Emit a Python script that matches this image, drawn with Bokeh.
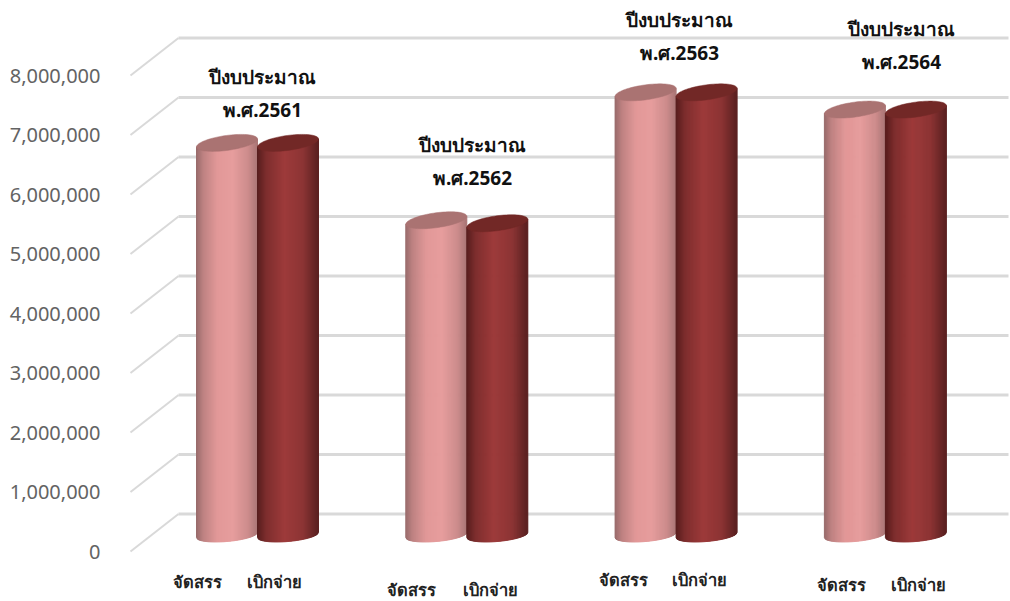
import numpy as np
from bokeh.plotting import figure
from bokeh.models import Range1d, FixedTicker, NumeralTickFormatter
from bokeh.core.properties import value
from bokeh.embed import file_html
from bokeh.resources import INLINE

years = ["2561", "2562", "2563", "2564"]
allocated = [6590000, 5290000, 7440000, 7150000]
disbursed = [6590000, 5240000, 7440000, 7150000]
series_names = ["จัดสรร", "เบิกจ่าย"]
title_text = "ปีงบประมาณ"
ticks = [0, 1000000, 2000000, 3000000, 4000000, 5000000, 6000000, 7000000, 8000000]

W, H = 1010, 601
LEFT, TOP = 118, 0           # page position of the frame
PX_PER_UNIT = 59.5 / 1e6     # px per value
Y0 = 551                     # page y of value 0
GROUP_PX = 209.3
GROUP0 = 257


def X(px):
    return (np.asarray(px, dtype=float) - GROUP0) / GROUP_PX


def Y(py):
    return (Y0 - np.asarray(py, dtype=float)) / PX_PER_UNIT


p = figure(width=W, height=H, output_backend="svg", toolbar_location=None,
           x_range=Range1d(float(X(LEFT)), float(X(W))),
           y_range=Range1d(float(Y(H)), float(Y(TOP))),
           min_border_left=LEFT, min_border_right=0, min_border_top=0, min_border_bottom=0,
           x_axis_location=None)
p.outline_line_color = None
p.grid.visible = False
p.background_fill_color = "white"

ax = p.yaxis[0]
ax.ticker = FixedTicker(ticks=ticks)
ax.formatter = NumeralTickFormatter(format="0,0")
ax.axis_line_color = None
ax.major_tick_line_color = None
ax.minor_tick_line_color = None
ax.major_tick_out = 0
ax.major_tick_in = 0
ax.major_label_standoff = 18
ax.major_label_text_font = "Noto Sans"
ax.major_label_text_font_size = "20px"
ax.major_label_text_color = "#636363"

# receding floor/wall gridlines
DEPTH_Y = 37.5
for t in ticks:
    y_front = t
    y_back = t + DEPTH_Y / PX_PER_UNIT
    p.line(X([130, 178]), [y_front, y_back], line_color="#d9d9d9", line_width=2)
    p.line(X([178, 1008]), [y_back, y_back], line_color="#d9d9d9", line_width=3)


def lerp_color(stops, t):
    pos = [s[0] for s in stops]
    rgb = [np.interp(t, pos, [s[1][i] for s in stops]) for i in range(3)]
    return "#%02x%02x%02x" % tuple(int(round(v)) for v in rgb)


PINK = [(0, (150, 105, 105)), (0.12, (190, 130, 130)), (0.35, (226, 152, 152)), (0.6, (230, 157, 157)),
        (0.85, (205, 140, 140)), (1, (170, 118, 118))]
DARK = [(0, (85, 28, 28)), (0.15, (125, 45, 45)), (0.45, (157, 58, 58)), (0.75, (140, 52, 52)),
        (1, (90, 32, 32))]
PINK_CAP = "#aa7372"
DARK_CAP = "#722826"

A = 30.5      # half width, px
B_TOP = 7.5   # minor half height of the cap, px
B_BASE = 6.5  # minor half height of the base, px
SLOPE_TOP = -0.13
SLOPE_BASE = -0.085
BASE_OFF = 16.5
STRIPS = 61


def cylinder(i, offset, val, stops, cap):
    cx = GROUP0 + GROUP_PX * i + offset
    base = Y0 - BASE_OFF
    top = base - val * PX_PER_UNIT
    edges = np.linspace(-A, A, STRIPS + 1)
    sag = lambda d: np.sqrt(np.clip(1 - (d / A) ** 2, 0, 1)) * B_BASE
    xs, ys, cols = [], [], []
    for k in range(STRIPS):
        d0, d1 = edges[k], edges[k + 1]
        x = [cx + d0, cx + d1, cx + d1, cx + d0]
        y = [top + SLOPE_TOP * d0, top + SLOPE_TOP * d1,
             base + SLOPE_BASE * d1 + sag(d1), base + SLOPE_BASE * d0 + sag(d0)]
        xs.append(X(x))
        ys.append(Y(y))
        cols.append(lerp_color(stops, (k + 0.5) / STRIPS))
    p.patches(xs, ys, fill_color=cols, line_color=cols, line_width=1)
    th = np.linspace(0, 2 * np.pi, 80)
    d = A * np.cos(th)
    cap_y = top + SLOPE_TOP * d + B_TOP * np.sin(th)
    p.patch(X(cx + d), Y(cap_y), fill_color=cap, line_color=cap, line_width=0.5)


for i in range(len(years)):
    cylinder(i, -30.5, allocated[i], PINK, PINK_CAP)
    cylinder(i, 30.5, disbursed[i], DARK, DARK_CAP)

THAI = value("Noto Sans")
title_pos = [(262, 76, 109), (472, 144, 177), (679, 19, 52), (901, 28, 61)]
for yr, (cx, y1, y2) in zip(years, title_pos):
    p.text([float(X(cx))], [float(Y(y1))], text=[title_text], text_font=THAI, text_font_size="19px",
           text_font_style="bold", text_color="#111111", text_align="center", text_baseline="middle")
    p.text([float(X(cx))], [float(Y(y2))], text=["พ.ศ." + yr], text_font=THAI, text_font_size="19px",
           text_font_style="bold", text_color="#111111", text_align="center", text_baseline="middle")

label_pos = [(197, 274, 581), (411, 490, 589), (623, 699, 579), (841, 918, 584)]
for (x1, x2, y) in label_pos:
    p.text([float(X(x1))], [float(Y(y))], text=[series_names[0]], text_font=THAI, text_font_size="16.5px",
           text_font_style="bold", text_color="#222222", text_align="center", text_baseline="middle")
    p.text([float(X(x2))], [float(Y(y))], text=[series_names[1]], text_font=THAI, text_font_size="16.5px",
           text_font_style="bold", text_color="#222222", text_align="center", text_baseline="middle")

open("out.html", "w").write(file_html(p, INLINE))
